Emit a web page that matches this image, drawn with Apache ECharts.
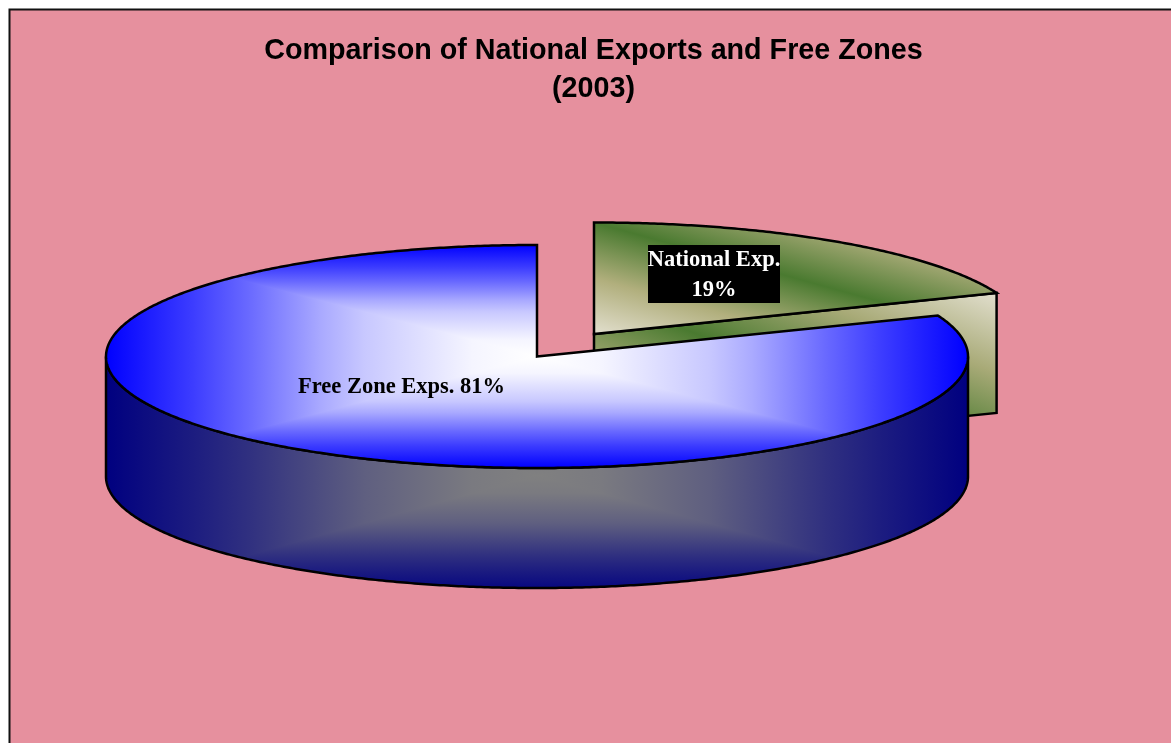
<!DOCTYPE html>
<html>
<head>
<meta charset="utf-8">
<title>Comparison of National Exports and Free Zones</title>
<style>
  html, body { margin: 0; padding: 0; background: #fff; overflow: hidden; }
  #chart { width: 1171px; height: 743px; }
</style>
<script src="https://cdn.jsdelivr.net/npm/echarts@6/dist/echarts.min.js"></script>
</head>
<body>
<div id="chart"></div>
<script>
  // data
  const categories = ['National Exp.', 'Free Zone Exps.']
  const shares = [19, 81]
  const chartTitle = 'Comparison of National Exports and Free Zones\n(2003)'

  // layout of the tilted pie, in pixels
  const cx = 537
  const cy = 356.5
  const ry = 111.5
  const depth = 120
  const slices = [{ dx: 57, dy: -22.5, rx: 433 }, { dx: 0, dy: 0, rx: 431 }]

  const total = shares.reduce(function (a, b) { return a + b }, 0)

  // angle is measured clockwise from 12 o'clock, before the tilt
  function arcPoints (x, y, rx, from, to) {
    const pts = []
    const n = Math.ceil(Math.abs(to - from) / 0.5)
    for (let i = 0; i <= n; i++) {
      const a = (from + (to - from) * i / n) * Math.PI / 180
      pts.push([x + rx * Math.sin(a), y - ry * Math.cos(a)])
    }
    return pts
  }

  function linear (x, y, x2, y2, colorStops) {
    return { type: 'linear', x: x, y: y, x2: x2, y2: y2, global: true, colorStops: colorStops }
  }

  // rectangular "from centre" gradient, painted as two halves and two triangles
  function boxGradient (x0, y0, x1, y1, stops) {
    const mx = (x0 + x1) / 2
    const my = (y0 + y1) / 2
    return [
      { type: 'rect', shape: { x: x0, y: y0, width: mx - x0 + 1, height: y1 - y0 }, style: { fill: linear(x0, 0, mx, 0, stops) } },
      { type: 'rect', shape: { x: mx, y: y0, width: x1 - mx, height: y1 - y0 }, style: { fill: linear(x1, 0, mx, 0, stops) } },
      { type: 'polygon', shape: { points: [[x0, y0], [x1, y0], [mx, my]] }, style: { fill: linear(0, y0, 0, my, stops) } },
      { type: 'polygon', shape: { points: [[x0, y1], [x1, y1], [mx, my]] }, style: { fill: linear(0, y1, 0, my, stops) } }
    ]
  }

  // band runs along the top-left to bottom-right diagonal of the box
  function diagonalFill (x0, y0, x1, y1) {
    const w = x1 - x0
    const h = y1 - y0
    const len = Math.sqrt(w * w + h * h)
    const nx = h / len
    const ny = -w / len
    const reach = w * h / len
    const mx = (x0 + x1) / 2
    const my = (y0 + y1) / 2
    return linear(mx - nx * reach, my - ny * reach, mx + nx * reach, my + ny * reach, [
      { offset: 0, color: '#e2dfce' },
      { offset: 0.25, color: '#b1af7d' },
      { offset: 0.5, color: '#4a7a30' },
      { offset: 0.75, color: '#a8aa77' },
      { offset: 1, color: '#e2dfce' }
    ])
  }

  const outline = { stroke: '#000', lineWidth: 2.5, lineJoin: 'miter', fill: 'none' }
  const topStops = [
    { offset: 0, color: '#0000ff' },
    { offset: 0.2, color: '#3c3cff' },
    { offset: 0.33, color: '#6969ff' },
    { offset: 0.5, color: '#aaaaff' },
    { offset: 0.6, color: '#c8c8ff' },
    { offset: 0.85, color: '#f5f5ff' },
    { offset: 1, color: '#ffffff' }
  ]
  const sideStops = [
    { offset: 0, color: '#000080' },
    { offset: 0.2, color: '#1c1c80' },
    { offset: 0.33, color: '#303080' },
    { offset: 0.5, color: '#4e4e80' },
    { offset: 0.6, color: '#5f5f80' },
    { offset: 0.85, color: '#7a7a80' },
    { offset: 1, color: '#808080' }
  ]

  function renderNational (px, py, rx, from, to, label, pct) {
    const arc = arcPoints(px, py, rx, from, to)
    const end = arc[arc.length - 1]
    const face = [[px, py], end, [end[0], end[1] + depth], [px, py + depth]]
    const top = [[px, py]].concat(arc)
    return [
      { type: 'polygon', shape: { points: face }, style: Object.assign({}, outline, { fill: diagonalFill(px, end[1], end[0], py + depth) }) },
      { type: 'polygon', shape: { points: top }, style: Object.assign({}, outline, { fill: diagonalFill(px, py - ry, end[0], py) }) },
      { type: 'rect', shape: { x: 648, y: 245, width: 132, height: 58 }, style: { fill: '#000' } },
      {
        type: 'text',
        style: {
          x: 714,
          y: 275.5,
          text: label + '\n' + pct + '%',
          align: 'center',
          verticalAlign: 'middle',
          font: 'bold 22.5px "Liberation Serif"',
          lineHeight: 30,
          fill: '#fff'
        }
      }
    ]
  }

  function renderFreeZone (px, py, rx, from, to, label, pct) {
    const front = arcPoints(px, py, rx, 90, 270)
    const lower = front.map(function (p) { return [p[0], p[1] + depth] }).reverse()
    const side = front.concat(lower)
    const top = [[px, py]].concat(arcPoints(px, py, rx, from, to))
    return [
      { type: 'group', clipPath: { type: 'polygon', shape: { points: side } }, children: boxGradient(px - rx, py, px + rx, py + depth * 2 - 2, sideStops) },
      { type: 'polygon', shape: { points: side }, style: outline },
      { type: 'group', clipPath: { type: 'polygon', shape: { points: top } }, children: boxGradient(px - rx, py - ry, px + rx, py + ry, topStops) },
      { type: 'polygon', shape: { points: top }, style: outline },
      {
        type: 'text',
        style: {
          x: 401.5,
          y: 387,
          text: label + ' ' + pct + '%',
          align: 'center',
          verticalAlign: 'middle',
          font: 'bold 22.5px "Liberation Serif"',
          fill: '#000'
        }
      }
    ]
  }

  const chart = echarts.init(document.getElementById('chart'))
  chart.setOption({
    animation: false,
    title: {
      text: chartTitle,
      left: 588.5,
      top: 27,
      textAlign: 'center',
      textStyle: { fontFamily: 'Liberation Sans', fontWeight: 'bold', fontSize: 28.7, lineHeight: 38, color: '#000' }
    },
    graphic: [{
      type: 'rect',
      z: -1,
      silent: true,
      shape: { x: 9.5, y: 9.5, width: 1180, height: 750 },
      style: { fill: '#e6909e', stroke: '#111', lineWidth: 2 }
    }],
    series: [{
      type: 'custom',
      coordinateSystem: 'none',
      silent: true,
      clip: false,
      data: categories.map(function (name, i) { return [i, shares[i]] }),
      renderItem: function (params, api) {
        const i = api.value(0)
        const pct = api.value(1)
        let from = 0
        for (let k = 0; k < i; k++) from += shares[k] / total * 360
        const to = from + pct / total * 360
        const s = slices[i]
        const draw = i === 0 ? renderNational : renderFreeZone
        return { type: 'group', children: draw(cx + s.dx, cy + s.dy, s.rx, from, to, categories[i], pct) }
      }
    }]
  })
</script>
</body>
</html>
